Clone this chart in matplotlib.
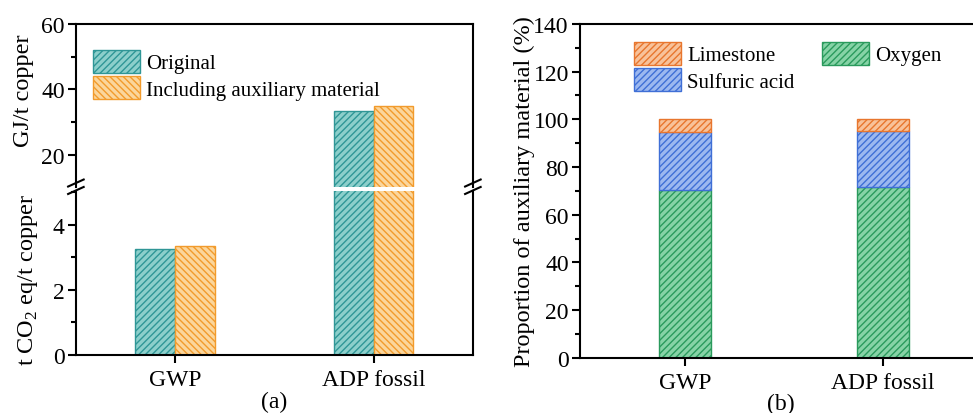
import matplotlib
matplotlib.use('Agg')
import matplotlib.pyplot as plt
import numpy as np

plt.rcParams['font.family'] = 'Liberation Serif'
plt.rcParams['mathtext.fontset'] = 'custom'
plt.rcParams['mathtext.rm'] = 'Liberation Serif'
plt.rcParams['hatch.linewidth'] = 1.0

# (a) data
categories = ['GWP', 'ADP fossil']
original = [3.25, 33.3]
including = [3.35, 34.8]

# (b) data, % of auxiliary material
oxygen = [70.3, 71.8]
sulfuric = [24.3, 23.4]
limestone = [5.4, 4.8]

teal_face, teal_edge = '#8ccfcb', '#2f9696'
orng_face, orng_edge = '#fbd69c', '#f29b2c'
green_face, green_edge = '#86d3a6', '#2a9a5c'
blue_face, blue_edge = '#9cb8f0', '#3f6fd6'
lime_face, lime_edge = '#f8c29a', '#e8762e'

fig = plt.figure(figsize=(9.73, 4.14), dpi=100)

# ---- panel (a): broken y axis built from two axes
ax_top = fig.add_axes([0.078, 0.545, 0.408, 0.395])
ax_bot = fig.add_axes([0.078, 0.140, 0.408, 0.397])

x = np.arange(len(categories))
w = 0.2
for ax in (ax_top, ax_bot):
    ax.bar(x - w / 2, original, w, facecolor=teal_face, edgecolor=teal_edge,
           hatch='/////', linewidth=1.0, label='Original')
    ax.bar(x + w / 2, including, w, facecolor=orng_face, edgecolor=orng_edge,
           hatch='\\\\\\\\\\', linewidth=1.0, label='Including auxiliary material')
    ax.set_xlim(-0.5, 1.5)
    for s in ax.spines.values():
        s.set_linewidth(1.5)
    ax.tick_params(axis='y', which='major', direction='out', length=6, width=1.5,
                   labelsize=17, pad=2)
    ax.tick_params(axis='y', which='minor', direction='out', length=3.5, width=1.5)

ax_top.set_ylim(10, 60)
ax_top.set_yticks([20, 40, 60])
ax_top.set_yticks([30, 50], minor=True)
ax_top.spines['bottom'].set_visible(False)
ax_top.set_xticks([])
ax_top.set_ylabel('GJ/t copper', fontsize=17.5)
ax_top.yaxis.set_label_coords(-0.105, 0.60)

ax_bot.set_ylim(0, 5.05)
ax_bot.set_yticks([0, 2, 4])
ax_bot.set_yticks([1, 3, 5], minor=True)
ax_bot.spines['top'].set_visible(False)
ax_bot.set_xticks(x)
ax_bot.set_xticklabels(categories, fontsize=17)
ax_bot.tick_params(axis='x', direction='out', length=6, width=1.5, pad=4)
ax_bot.set_ylabel(r't CO$_\mathrm{2}$ eq/t copper', fontsize=17.5)
ax_bot.yaxis.set_label_coords(-0.09, 0.46)
ax_bot.set_xlabel('(a)', fontsize=17, labelpad=1)

ax_top.legend(loc='upper left', bbox_to_anchor=(0.043, 0.84), frameon=False, fontsize=15,
              handlelength=2.25, handleheight=1.3, handletextpad=0.3, labelspacing=0.15,
              borderaxespad=0.0, borderpad=0.0)

# break marks on both side spines
for xs in (0.0, 1.0):
    for dy in (-0.006, 0.012):
        fig.add_artist(plt.Line2D([0.078 + xs * 0.408 - 0.008, 0.078 + xs * 0.408 + 0.008],
                                  [0.535 + dy, 0.552 + dy], color='black', lw=1.5,
                                  transform=fig.transFigure))

# ---- panel (b): stacked proportions
axb = fig.add_axes([0.596, 0.133, 0.413, 0.807])
wb = 0.26
axb.bar(x, oxygen, wb, facecolor=green_face, edgecolor=green_edge, hatch='/////',
        linewidth=1.0, label='Oxygen')
axb.bar(x, sulfuric, wb, bottom=oxygen, facecolor=blue_face, edgecolor=blue_edge,
        hatch='/////', linewidth=1.0, label='Sulfuric acid')
axb.bar(x, limestone, wb, bottom=np.add(oxygen, sulfuric), facecolor=lime_face,
        edgecolor=lime_edge, hatch='/////', linewidth=1.0, label='Limestone')
axb.set_xlim(-0.53, 1.5)
axb.set_ylim(0, 140)
axb.set_yticks(np.arange(0, 141, 20))
axb.set_yticks(np.arange(10, 140, 20), minor=True)
for s in axb.spines.values():
    s.set_linewidth(1.5)
axb.tick_params(axis='y', which='major', direction='out', length=6, width=1.5, labelsize=17,
                pad=2, right=False)
axb.tick_params(axis='y', which='minor', direction='out', length=3.5, width=1.5)
axb.set_xticks(x)
axb.set_xticklabels(categories, fontsize=17)
axb.tick_params(axis='x', direction='out', length=6, width=1.5, pad=4)
axb.set_ylabel('Proportion of auxiliary material (%)', fontsize=17.5)
axb.yaxis.set_label_coords(-0.112, 0.5)
axb.set_xlabel('(b)', fontsize=17, labelpad=0)

h, l = axb.get_legend_handles_labels()
order = [2, 1, 0]
axb.legend([h[i] for i in order], [l[i] for i in order], ncol=2, loc='upper left',
           bbox_to_anchor=(0.135, 0.946), frameon=False, fontsize=15, handlelength=2.25,
           handleheight=1.3, handletextpad=0.3, labelspacing=0.15, columnspacing=1.3,
           borderaxespad=0.0, borderpad=0.0)

fig.savefig('out.png', dpi=100)
